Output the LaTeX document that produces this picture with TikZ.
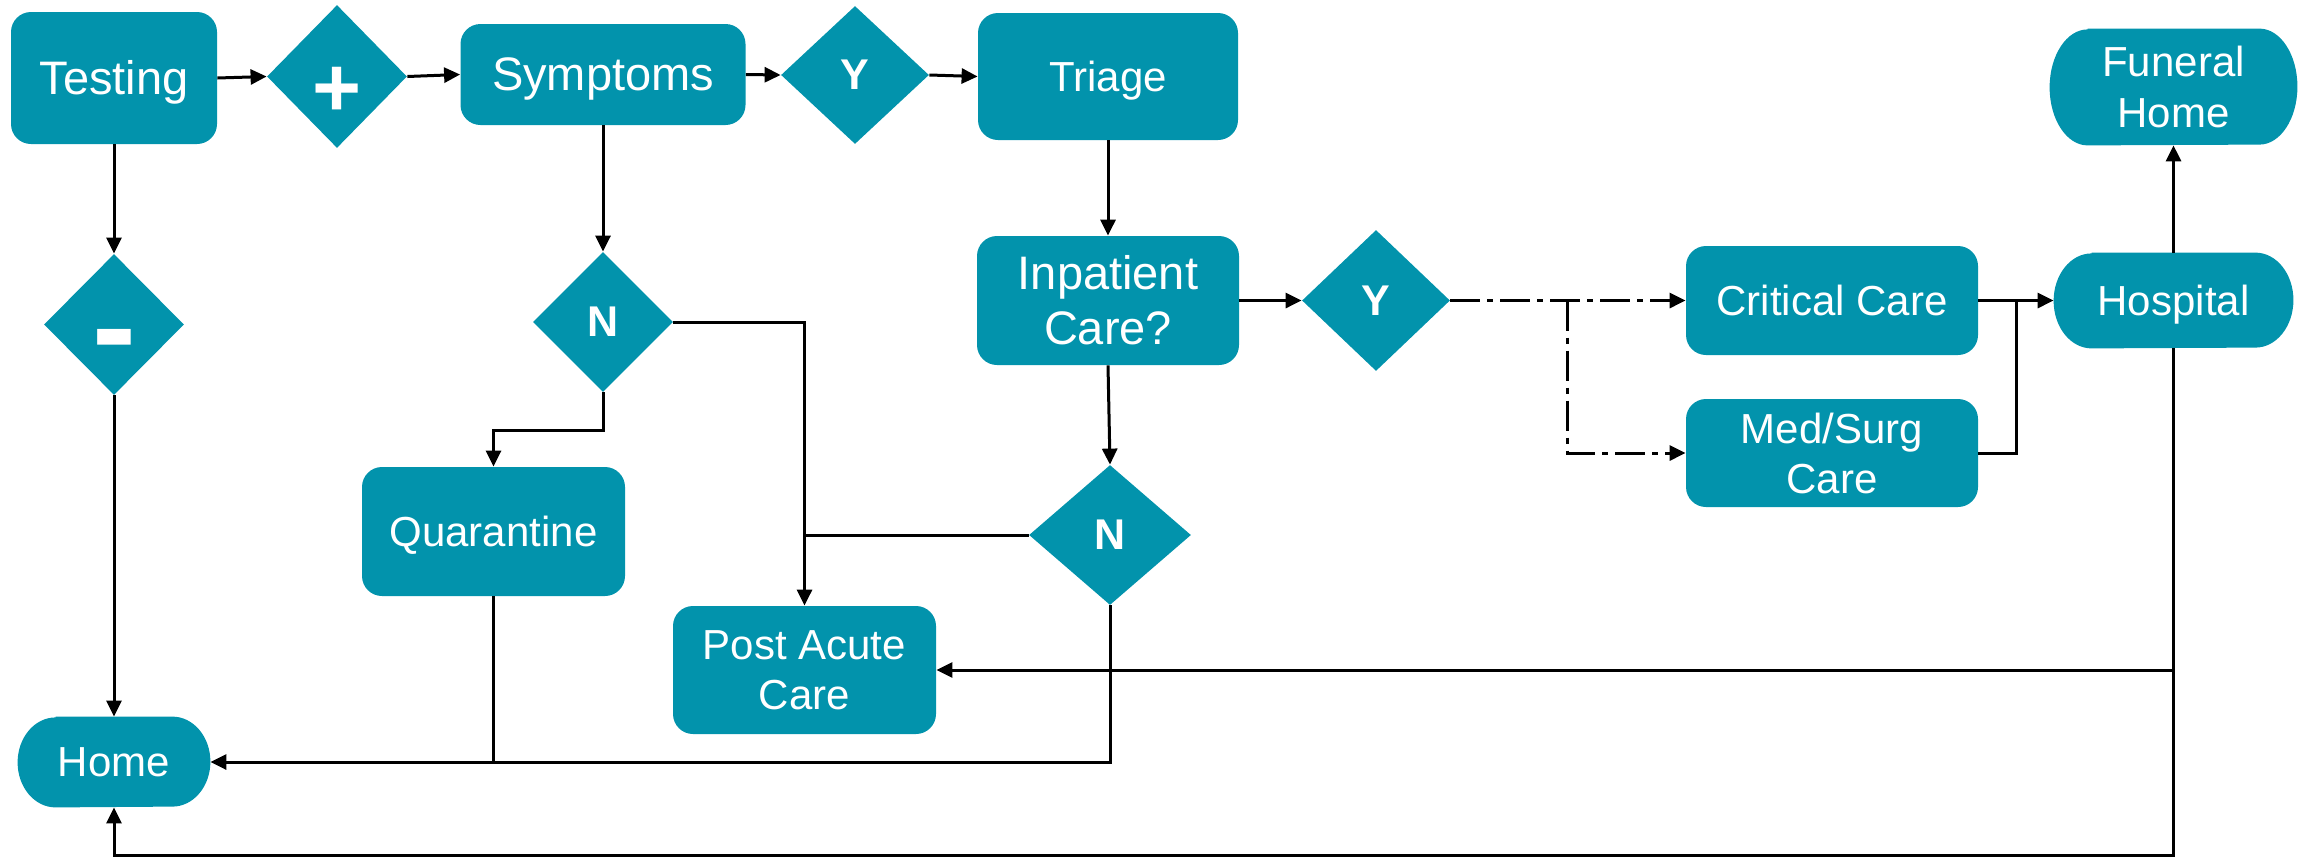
\documentclass[tikz,border=0pt]{standalone}
\usepackage{fontspec}
\setmainfont{Liberation Sans}
\usetikzlibrary{shapes.geometric,arrows.meta,backgrounds}
\definecolor{tealc}{RGB}{2,147,172}
\tikzset{
  sz/.style 2 args={minimum width=#1*0.5pt,minimum height=#2*0.5pt},
  box/.style={rectangle,rounded corners=10pt,fill=tealc,text=white,inner sep=0pt,align=center,font=\fontsize{21}{25}\selectfont},
  bigtext/.style={font=\fontsize{23.5}{27.5}\selectfont},
  onebig/.style={text height=21.3pt,text depth=5pt},
  one/.style={text height=19pt,text depth=4.45pt},
  stad/.style={rectangle,text=white,inner sep=0pt,align=center,font=\fontsize{21}{25.5}\selectfont},
  dec/.style={diamond,fill=tealc,text=white,inner sep=0pt,font=\bfseries\fontsize{21.5}{25}\selectfont},
  pm/.style={text=white,inner sep=0pt},
  ln/.style={line width=1.5pt,draw=black},
  ar/.style={ln,-{Triangle[length=8pt,width=7.5pt]}},
  dd/.style={dash pattern=on 15pt off 3.5pt on 3pt off 3.5pt}
}
\newcommand{\stadfill}[2]{%
  \fill[tealc] ([xshift=19pt]#1.north west) -- ([xshift=-19pt]#1.north east)
    arc[start angle=90,end angle=-90,x radius=19pt,y radius=#2]
    -- ([xshift=19pt]#1.south west)
    arc[start angle=270,end angle=90,x radius=19pt,y radius=#2] -- cycle;}
\begin{document}
\begin{tikzpicture}[x=0.5pt,y=0.5pt]
\useasboundingbox (0,0) rectangle (2305,-857);
% nodes
\node[box,bigtext,onebig,sz={206}{132}] (testing) at (114,-78) {Testing};
\node[dec,sz={140}{143},label={[pm,font=\bfseries\fontsize{42}{42}\selectfont,yshift=-7.5pt]center:+}] (plus) at (337,-76.5) {};
\node[box,bigtext,onebig,sz={285}{101}] (symp) at (603,-74.5) {Symptoms};
\node[dec,sz={148}{138}] (y1) at (855,-75) {Y};
\node[box,one,sz={260}{127}] (triage) at (1108,-76.5) {Triage};
\node[stad,sz={247}{116}] (fun) at (2173.5,-87) {Funeral\\Home};
\node[dec,sz={140}{141},label={[pm,font=\bfseries\fontsize{66}{66}\selectfont,yshift=-12.8pt]center:-}] (minus) at (114,-324.5) {};
\node[dec,sz={140}{140}] (n1) at (603,-322) {N};
\node[box,bigtext,sz={262}{129}] (inpat) at (1108,-300.5) {Inpatient\\Care?};
\node[dec,sz={148}{141}] (y2) at (1376,-300.5) {Y};
\node[box,one,sz={292}{109}] (crit) at (1832,-300.5) {Critical Care};
\node[box,sz={292}{108}] (med) at (1832,-453) {Med/Surg\\Care};
\node[stad,one,sz={239}{95}] (hosp) at (2173.5,-300.5) {Hospital};
\node[box,one,sz={263}{129}] (quar) at (493.5,-531.5) {Quarantine};
\node[dec,sz={162}{140}] (n2) at (1110,-535) {N};
\node[box,sz={263}{128}] (post) at (804.5,-670) {Post Acute\\Care};
\node[stad,one,sz={192}{90}] (home) at (114,-762) {Home};
\begin{pgfonlayer}{background}
  \stadfill{fun}{29pt}
  \stadfill{hosp}{23.75pt}
  \stadfill{home}{22.5pt}
\end{pgfonlayer}
% helper coordinates
\coordinate (brx) at (1567.5,0);
\coordinate (jx) at (2016,0);
\coordinate (bot) at (0,-855);
\coordinate (q1) at (0,-430);
% connectors
\draw[ar] (testing.east) -- (plus.west);
\draw[ar] (plus.east) -- (symp.west);
\draw[ar] (symp.east) -- (y1.west);
\draw[ar] (y1.east) -- (triage.west);
\draw[ar] (triage.south) -- (inpat.north);
\draw[ar] (inpat.east) -- (y2.west);
\draw[ar,dd] (y2.east) -- (crit.west);
\draw[ar,dd] (y2.east -| brx) |- (med.west);
\draw[ar] (crit.east) -- (hosp.west);
\draw[ln] (med.east) -| (jx |- hosp.west);
\draw[ar] (hosp.north) -- (fun.south);
\draw[ar] (hosp.south) -- (hosp.south |- bot) -| (home.south);
\draw[ar] (hosp.south |- post.east) -- (post.east);
\draw[ar] (testing.south) -- (minus.north);
\draw[ar] (minus.south) -- (home.north);
\draw[ar] (symp.south) -- (n1.north);
\draw[ar] (n1.south) -- (n1.south |- q1) -| (quar.north);
\draw[ar] (n1.east) -| (post.north);
\draw[ln] (n2.west) -- (n2.west -| post.north);
\draw[ar] (inpat.south) -- (n2.north);
\draw[ar] (n2.south) -- (n2.south |- home.east) -- (home.east);
\draw[ln] (quar.south) -- (quar.south |- home.east);
\end{tikzpicture}
\end{document}
